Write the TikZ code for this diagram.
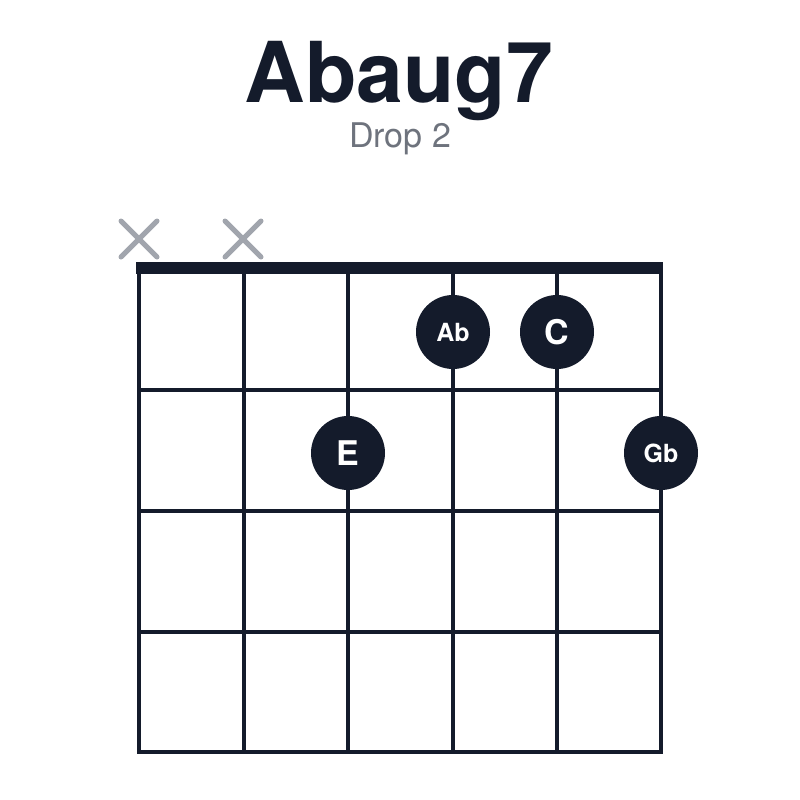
\documentclass[tikz,border=0pt]{standalone}
\usepackage{fontspec}
\setmainfont{TeX Gyre Heros}
\definecolor{ink}{HTML}{141B2B}
\definecolor{muted}{HTML}{A1A5AD}
\definecolor{subgray}{HTML}{6E737D}
\begin{document}
\begin{tikzpicture}[x=1pt,y=-1pt,
    string/.style={ink,line width=3.5pt},
    fingerdot/.style={circle,fill=ink,text=white,minimum size=74pt,inner sep=0pt,font=\fontsize{25}{25}\selectfont\bfseries},
    mutemark/.style={muted,line width=5pt,line cap=round}]
        \useasboundingbox (0,0) rectangle (800,800);
        \node[anchor=base,ink,font=\fontsize{84}{84}\selectfont\bfseries] (title) at (399,102) {Abaug7};
        \node[anchor=base,subgray,font=\fontsize{34}{34}\selectfont] (sub) at (400,147) {Drop 2};
        % nut
        \fill[ink] (136,262) rectangle (663,274);
        % strings and frets
        \foreach \x in {139,244,348,453,557,661}
            \draw[string] (\x,268) -- (\x,752);
        \foreach \y in {390,511,632,752}
            \draw[string] (137.25,\y) -- (662.75,\y);
        % muted strings
        \foreach \x in {139,243}
            \draw[mutemark] (\x-18,221) -- (\x+18,257) (\x-18,257) -- (\x+18,221);
        % fingers
        \node[fingerdot] (ab) at (453,332) {Ab};
        \node[fingerdot,font=\fontsize{34}{34}\selectfont\bfseries] (c) at (557,332) {C};
        \node[fingerdot,font=\fontsize{34}{34}\selectfont\bfseries] (e) at (348,453) {E};
        \node[fingerdot] (gb) at (661,453) {Gb};
    \end{tikzpicture}
\end{document}
